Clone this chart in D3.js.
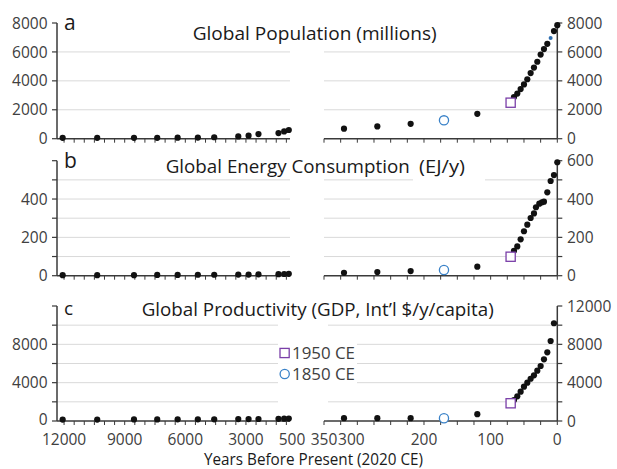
<!DOCTYPE html>
<html><head><meta charset="utf-8">
<script src="https://cdn.jsdelivr.net/npm/d3@7/dist/d3.min.js"></script>
<style>body{margin:0;background:#fff} svg text{font-family:"Open Sans",sans-serif}</style>
</head><body><svg id="c" width="617" height="469"></svg>
<script>
// ---------- DATA ----------
// Left (long-term) panel: years before present (BP, 2020 CE)
const leftYearsBP = [12070, 10360, 8540, 7390, 6380, 5380, 4570, 3380, 2870, 2380, 1390, 1110, 880];
const popLeft     = [60, 60, 60, 60, 70, 80, 100, 160, 210, 320, 390, 500, 600];
const energyLeft  = [3, 3, 3, 4, 4, 5, 5, 6, 6, 7, 8, 9, 10];
const gdpLeft     = [150, 150, 160, 160, 170, 180, 180, 200, 200, 210, 230, 240, 250];

// Right panel, pre-1950 years (CE)
const earlyYearsCE = [1700, 1750, 1800, 1900];
const popEarly     = [690, 850, 1030, 1720];
const energyEarly  = [15, 19, 24, 47];
const gdpEarly     = [290, 290, 300, 710];

// Marker years (CE) and their values
const markerYearSquare = 1950;
const markerYearCircle = 1850;
const popSquare = 2490, popCircle = 1270;
const energySquare = 99, energyCircle = 30;
const gdpSquare = 1850, gdpCircle = 280;

// Post-1950 series (CE)
const popYearsCE = [1955, 1960, 1965, 1970, 1975, 1980, 1985, 1990, 1995, 2000, 2005, 2010, 2015, 2020];
const popModern  = [2880, 3120, 3430, 3750, 4110, 4540, 4920, 5320, 5820, 6200, 6560, 6970, 7440, 7850];
const popBlueYear = 2010;

const energyYearsCE = [1955, 1960, 1965, 1970, 1975, 1980, 1985, 1988, 1993, 1997, 2000, 2005, 2010, 2015, 2020];
const energyModern  = [130, 153, 190, 232, 266, 301, 325, 357, 376, 383, 386, 435, 494, 525, 592];

const gdpYearsCE = [1955, 1960, 1965, 1970, 1975, 1980, 1985, 1990, 1995, 2000, 2005, 2010, 2015];
const gdpModern  = [2190, 2580, 3060, 3580, 4000, 4410, 4770, 5250, 5740, 6440, 7170, 8350, 10200];

// Axis tick labels
const leftXLabels  = [12000, 9000, 6000, 3000, 500];
const rightXLabels = [350, 300, 200, 100, 0];
const presentYear = 2020;

// ---------- DRAW ----------
const svg = d3.select("#c");
const xL = d3.scaleLinear().domain([12350, 820]).range([57, 290]);
const xR = d3.scaleLinear().domain([350, 0]).range([324, 557.3]);
const bp = ce => presentYear - ce;

const axisCol = "#3a3a3a", gridCol = "#d9d9d9", textCol = "#404040";
const purple = "#7a3fa8", blue = "#3a82c8";

const panels = [
  {lab:"a", y:d3.scaleLinear().domain([0,8000]).range([138.7,23]), tick:2000,
   leftLabels:[0,2000,4000,6000,8000], rightLabels:[0,2000,4000,6000,8000],
   left:popLeft, early:popEarly, sq:popSquare, ci:popCircle, years:popYearsCE, modern:popModern, blueYear:popBlueYear},
  {lab:"b", y:d3.scaleLinear().domain([0,600]).range([275.7,160.7]), tick:100,
   leftLabels:[0,200,400], rightLabels:[0,200,400,600],
   left:energyLeft, early:energyEarly, sq:energySquare, ci:energyCircle, years:energyYearsCE, modern:energyModern},
  {lab:"c", y:d3.scaleLinear().domain([0,12000]).range([421,306]), tick:2000,
   leftLabels:[0,4000,8000], rightLabels:[0,4000,8000,12000],
   left:gdpLeft, early:gdpEarly, sq:gdpSquare, ci:gdpCircle, years:gdpYearsCE, modern:gdpModern}
];

const layers = panels.map(() => ({grid: svg.append("g"), cover: svg.append("g"), top: svg.append("g")}));

panels.forEach((p, i) => {
  const gg = layers[i].grid, g = layers[i].top;
  const y = p.y, [d0, d1] = y.domain();
  const y0 = y(d0), yTop = y(d1);
  const gridVals = d3.range(d0 + p.tick, d1, p.tick);
  const tickVals = d3.range(d0, d1 + p.tick/2, p.tick);
  const isLast = i === panels.length - 1;

  // gridlines
  [[xL.range()[0], xL.range()[1]], [xR.range()[0], xR.range()[1]]].forEach(([a, b]) => {
    gg.selectAll(null).data(gridVals).join("line")
      .attr("x1", a).attr("x2", b).attr("y1", d => y(d)).attr("y2", d => y(d))
      .attr("stroke", gridCol).attr("stroke-width", 1);
  });

  // y axes
  const xl = xL.range()[0], xr = xR.range()[1];
  g.append("line").attr("x1", xl).attr("x2", xl).attr("y1", y0).attr("y2", yTop).attr("stroke", axisCol).attr("stroke-width", 1.5);
  g.append("line").attr("x1", xr).attr("x2", xr).attr("y1", y0).attr("y2", yTop).attr("stroke", axisCol).attr("stroke-width", 1.5);
  g.selectAll(null).data(tickVals).join("line")
    .attr("x1", xl - 5).attr("x2", xl).attr("y1", d => y(d)).attr("y2", d => y(d)).attr("stroke", axisCol).attr("stroke-width", 1.2);
  g.selectAll(null).data(tickVals).join("line")
    .attr("x1", xr).attr("x2", xr + 5).attr("y1", d => y(d)).attr("y2", d => y(d)).attr("stroke", axisCol).attr("stroke-width", 1.2);
  g.selectAll(null).data(p.leftLabels).join("text")
    .attr("x", 47.5).attr("y", d => y(d) - (isLast && d === 0 ? 2 : 0)).attr("dy", "0.36em").attr("text-anchor", "end")
    .attr("font-size", 15.5).attr("fill", textCol).text(d => d);
  g.selectAll(null).data(p.rightLabels).join("text")
    .attr("x", 567).attr("y", d => y(d)).attr("dy", "0.36em").attr("text-anchor", "start")
    .attr("font-size", 15.5).attr("fill", textCol).text(d => d);

  // x axes
  g.append("line").attr("x1", xL.range()[0]).attr("x2", xL.range()[1]).attr("y1", y0).attr("y2", y0).attr("stroke", axisCol).attr("stroke-width", 1.5);
  g.append("line").attr("x1", xR.range()[0]).attr("x2", xR.range()[1]).attr("y1", y0).attr("y2", y0).attr("stroke", axisCol).attr("stroke-width", 1.5);
  g.selectAll(null).data(d3.range(12000, 820, -500)).join("line")
    .attr("x1", d => xL(d)).attr("x2", d => xL(d)).attr("y1", y0).attr("y2", y0 + 4).attr("stroke", axisCol).attr("stroke-width", 1);
  g.selectAll(null).data(d3.range(350, -1, -25)).join("line")
    .attr("x1", d => xR(d)).attr("x2", d => xR(d)).attr("y1", y0).attr("y2", y0 + 4).attr("stroke", axisCol).attr("stroke-width", 1);

  // panel letter
  g.append("text").attr("x", 64).attr("y", y(d1) + (i === 2 ? 9 : 7)).attr("font-size", i === 2 ? 19 : 21)
    .attr("fill", "#1a1a1a").text(p.lab);

  // left dots
  g.selectAll(null).data(leftYearsBP.map((t, k) => [t, p.left[k]])).join("circle")
    .attr("cx", d => xL(d[0])).attr("cy", d => y(d[1])).attr("r", 3.1).attr("fill", "#111");
  // right early dots
  g.selectAll(null).data(earlyYearsCE.map((t, k) => [bp(t), p.early[k]])).join("circle")
    .attr("cx", d => xR(d[0])).attr("cy", d => y(d[1])).attr("r", 3.1).attr("fill", "#111");
  // modern dots
  g.selectAll(null).data(p.years.map((t, k) => [t, p.modern[k]])).join("circle")
    .attr("cx", d => xR(bp(d[0]))).attr("cy", d => y(d[1]))
    .attr("r", d => d[0] === p.blueYear ? 2 : 3.1).attr("fill", d => d[0] === p.blueYear ? "#2f6fb0" : "#111");
  // 1850 circle
  g.append("circle").attr("cx", xR(bp(markerYearCircle))).attr("cy", y(p.ci)).attr("r", 4.6)
    .attr("fill", "#fff").attr("stroke", blue).attr("stroke-width", 1.3);
  // 1950 square
  g.append("rect").attr("x", xR(bp(markerYearSquare)) - 4.6).attr("y", y(p.sq) - 4.6).attr("width", 9.2).attr("height", 9.2)
    .attr("fill", "#fff").attr("stroke", purple).attr("stroke-width", 1.3);
});

// titles
const title = (x, yb, size, len, s) => svg.append("text").attr("x", x).attr("y", yb)
  .attr("font-size", size).attr("fill", "#1a1a1a")
  .attr("textLength", len).attr("lengthAdjust", "spacingAndGlyphs").text(s);
title(192.7, 40, 18, 244, "Global Population (millions)");
title(165.7, 172.5, 18, 244, "Global Energy Consumption");
layers[1].cover.append("rect").attr("x", 413).attr("y", 160).attr("width", 72).attr("height", 23).attr("fill", "#fff");
title(419, 173, 17.5, 46, "(EJ/y)");
title(141.7, 315.5, 18, 352, "Global Productivity (GDP, Int\u2019l $/y/capita)");

// legend (white box over gridlines)
layers[2].cover.append("rect").attr("x", 278).attr("y", 335).attr("width", 79).attr("height", 57).attr("fill", "#fff");
layers[2].cover.append("rect").attr("x", 278).attr("y", 318).attr("width", 50).attr("height", 90).attr("fill", "#fff");
svg.append("rect").attr("x", 280).attr("y", 348.4).attr("width", 9.2).attr("height", 9.2).attr("fill", "#fff").attr("stroke", purple).attr("stroke-width", 1.3);
svg.append("text").attr("x", 292).attr("y", 353).attr("dy", "0.36em").attr("font-size", 16.5).attr("fill", textCol)
  .attr("textLength", 63).attr("lengthAdjust", "spacingAndGlyphs").text(markerYearSquare + " CE");
svg.append("circle").attr("cx", 284.7).attr("cy", 374).attr("r", 4.6).attr("fill", "#fff").attr("stroke", blue).attr("stroke-width", 1.3);
svg.append("text").attr("x", 292).attr("y", 374).attr("dy", "0.36em").attr("font-size", 16.5).attr("fill", textCol)
  .attr("textLength", 63).attr("lengthAdjust", "spacingAndGlyphs").text(markerYearCircle + " CE");

// x tick labels (bottom panel)
svg.selectAll(null).data(leftXLabels).join("text")
  .attr("x", d => xL(d) + (d === 500 ? -4.5 : 0)).attr("y", 439).attr("dy", "0.36em").attr("text-anchor", "middle")
  .attr("font-size", 15.5).attr("fill", textCol).text(d => d);
svg.selectAll(null).data(rightXLabels).join("text")
  .attr("x", d => xR(d) + (d === 300 ? -6 : 0)).attr("y", 439).attr("dy", "0.36em").attr("text-anchor", "middle")
  .attr("font-size", 15.5).attr("fill", textCol).text(d => d);

// axis title
svg.append("text").attr("x", 204).attr("y", 465).attr("font-size", 15.5).attr("fill", "#1a1a1a")
  .attr("textLength", 219).attr("lengthAdjust", "spacingAndGlyphs")
  .text("Years Before Present (" + presentYear + " CE)");
</script></body></html>
